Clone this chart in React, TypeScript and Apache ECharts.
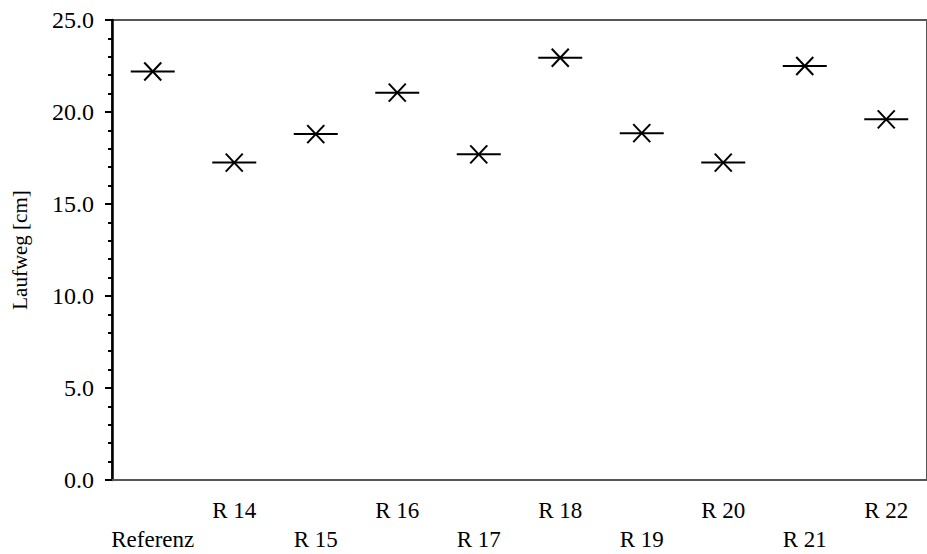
import React, { useEffect, useRef } from "react";
import * as echarts from "echarts";

const categories = ["Referenz", "R 14", "R 15", "R 16", "R 17", "R 18", "R 19", "R 20", "R 21", "R 22"];
const laufweg = [22.2, 17.25, 18.8, 21.05, 17.7, 22.95, 18.85, 17.25, 22.5, 19.6];
const yTicks = [0, 5, 10, 15, 20, 25];

const FONT = "'Liberation Serif', 'Times New Roman', serif";

export default function App() {
  const ref = useRef<HTMLDivElement>(null);
  useEffect(() => {
    document.body.style.margin = "0";
    const chart = echarts.init(ref.current!, null, { renderer: "svg" });
    chart.setOption({
      animation: false,
      backgroundColor: "#fff",
      grid: {
        left: 112,
        top: 20,
        width: 824,
        height: 465,
        show: true,
        borderColor: "#555",
        borderWidth: 2,
        backgroundColor: "transparent",
      },
      xAxis: {
        type: "category",
        data: categories,
        axisLine: { show: true, lineStyle: { color: "#555", width: 2 } },
        axisTick: { show: false },
        splitLine: { show: false },
        axisLabel: {
          interval: 0,
          margin: 16,
          fontFamily: FONT,
          fontSize: 23,
          color: "#000",
          lineHeight: 29,
          formatter: (v: string, i: number) => (i % 2 === 0 ? "\n" + v : v),
        },
      },
      yAxis: {
        type: "value",
        min: yTicks[0],
        max: yTicks[yTicks.length - 1],
        interval: 5,
        name: "Laufweg [cm]",
        nameLocation: "middle",
        nameGap: 82,
        nameTextStyle: { fontFamily: FONT, fontSize: 21, color: "#000" },
        axisLine: { show: true, lineStyle: { color: "#000", width: 2.5 } },
        axisTick: { show: true, length: 7, lineStyle: { color: "#000", width: 2 } },
        minorTick: { show: true, splitNumber: 5, length: 4, lineStyle: { color: "#000", width: 2 } },
        splitLine: { show: false },
        axisLabel: {
          margin: 18,
          fontFamily: FONT,
          fontSize: 24,
          color: "#000",
          formatter: (v: number) => v.toFixed(1),
        },
      },
      series: [
        {
          type: "custom",
          data: laufweg.map((v, i) => [i, v]),
          encode: { x: 0, y: 1 },
          renderItem: (params: any, api: any) => {
            const p = api.coord([api.value(0), api.value(1)]);
            const x = p[0];
            const y = p[1];
            const st = { stroke: "#000", lineWidth: 2, fill: "none" };
            return {
              type: "group",
              children: [
                { type: "line", shape: { x1: x - 22, y1: y, x2: x + 22, y2: y }, style: st },
                { type: "line", shape: { x1: x - 8.5, y1: y - 9, x2: x + 8.5, y2: y + 9 }, style: st },
                { type: "line", shape: { x1: x - 8.5, y1: y + 9, x2: x + 8.5, y2: y - 9 }, style: st },
              ],
            };
          },
          emphasis: { disabled: true },
        },
      ],
    });
    return () => chart.dispose();
  }, []);
  return <div ref={ref} style={{ width: 927, height: 554 }} />;
}
